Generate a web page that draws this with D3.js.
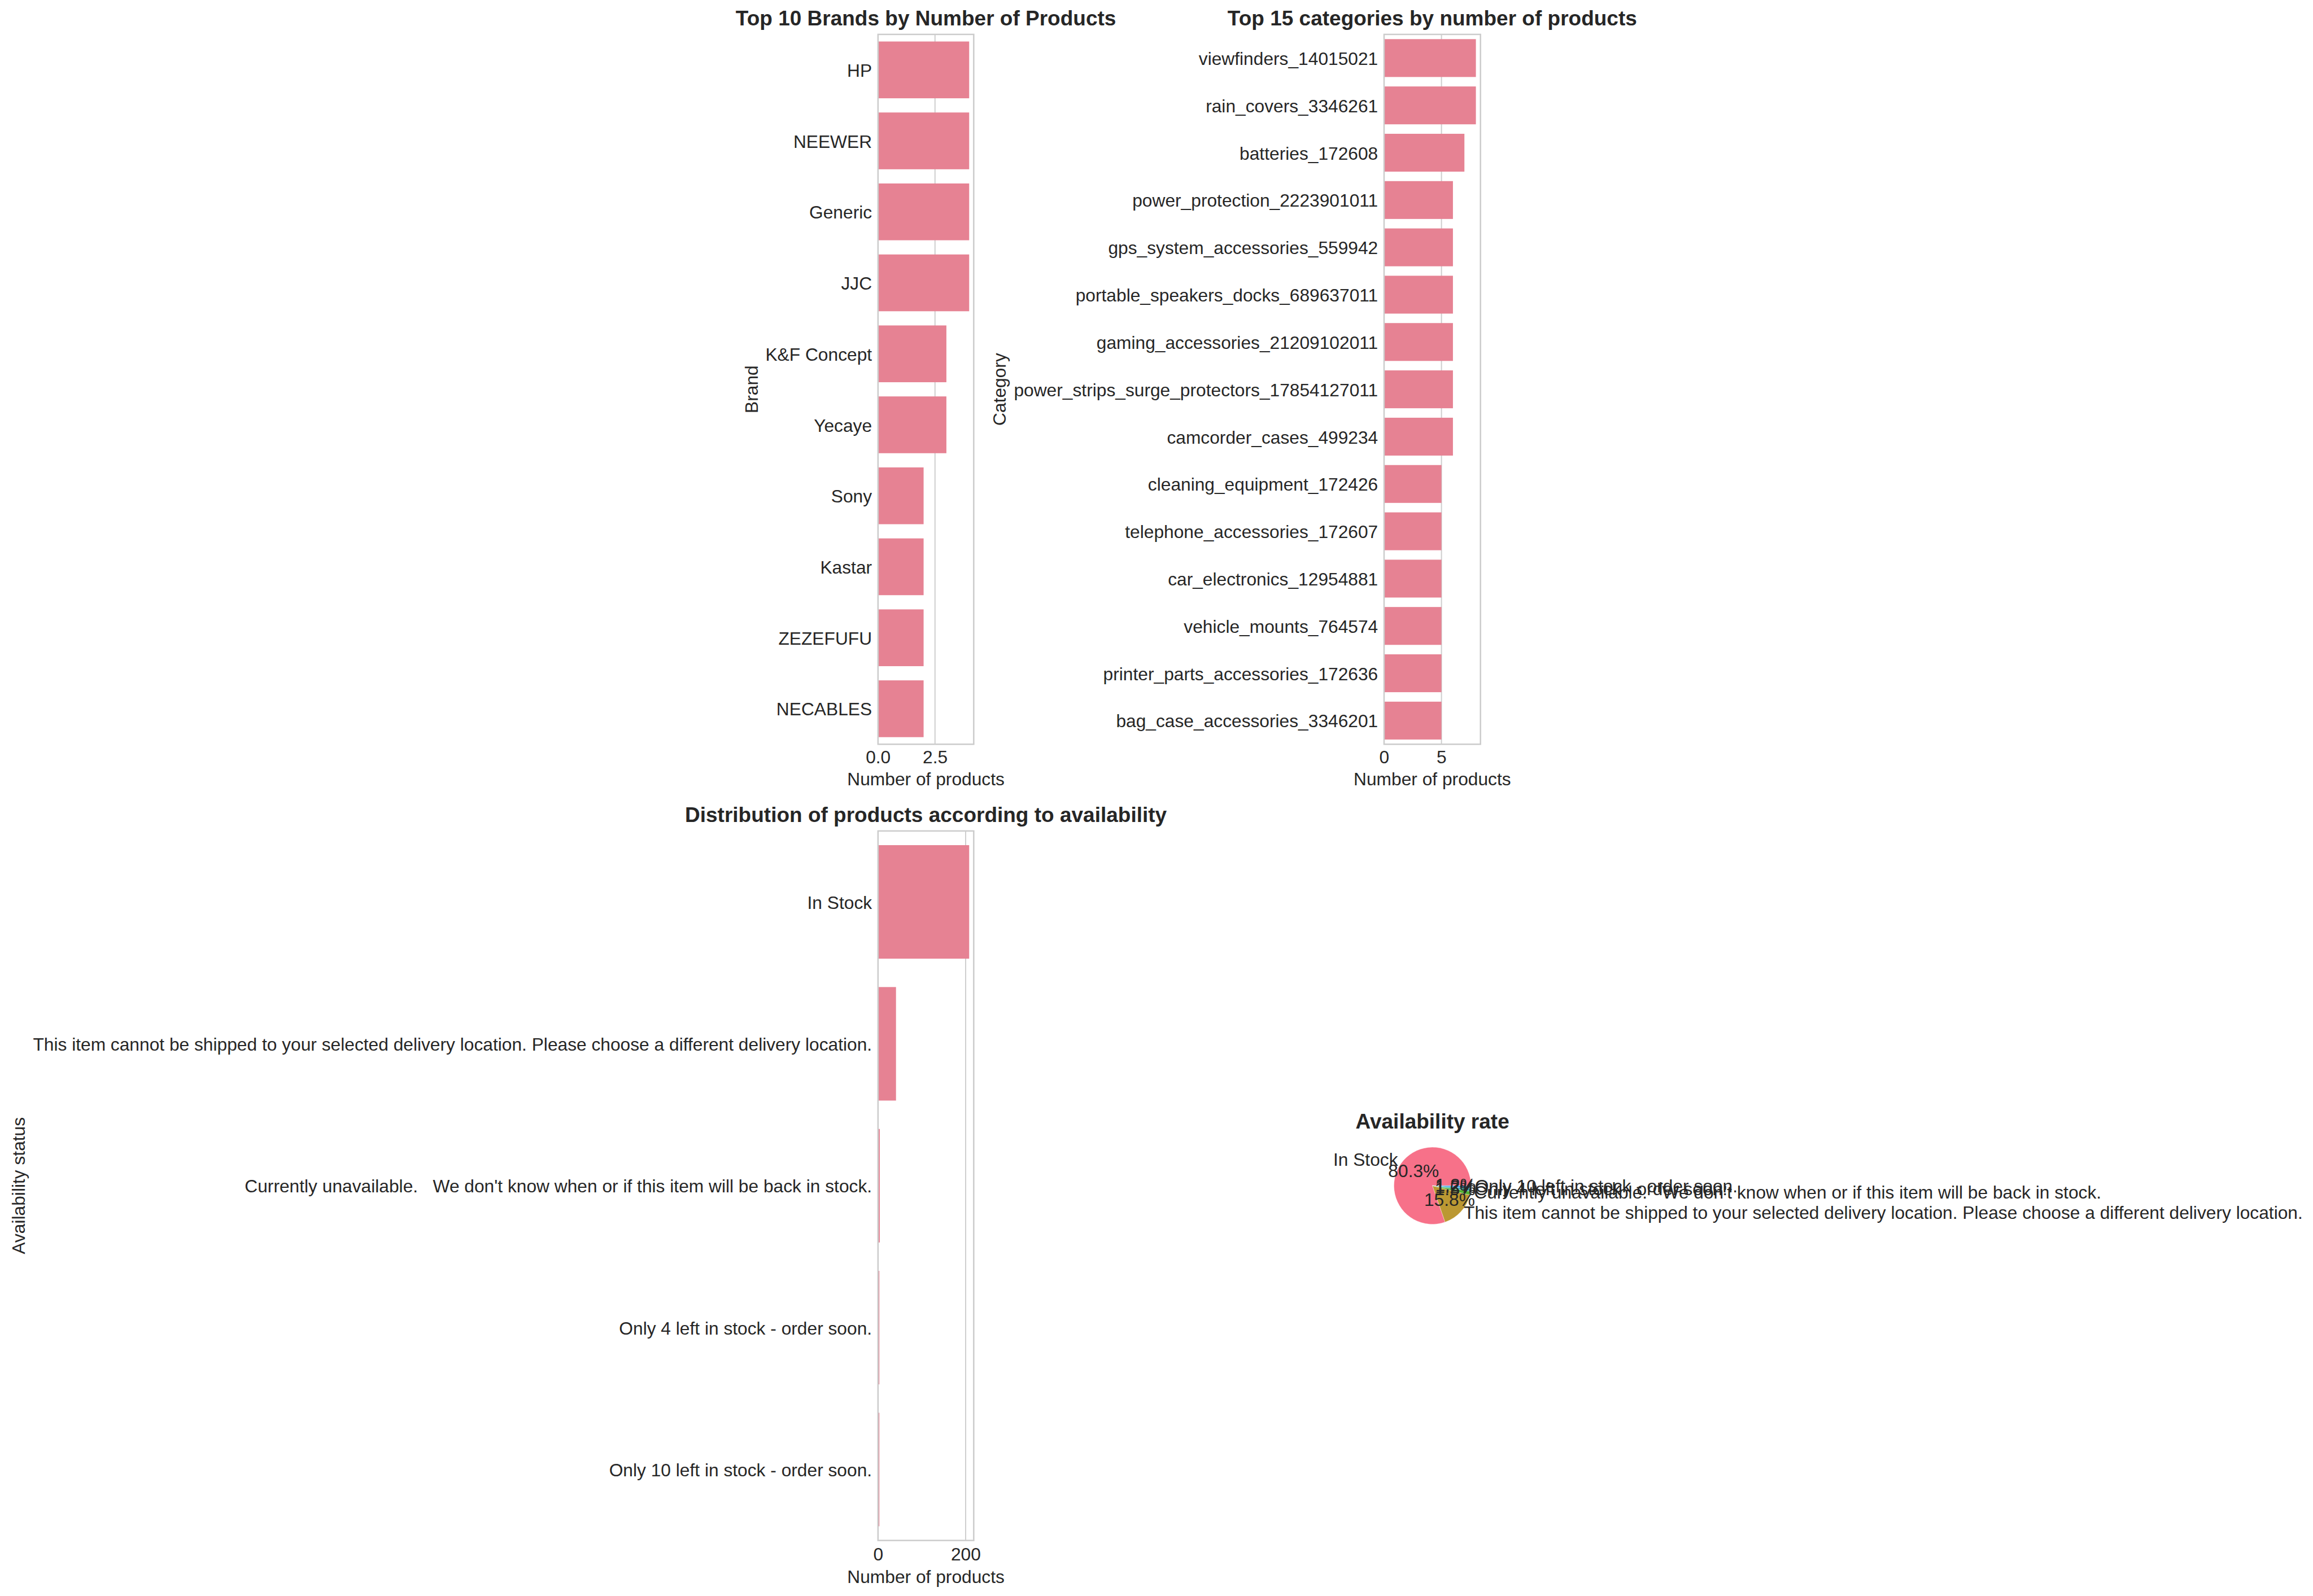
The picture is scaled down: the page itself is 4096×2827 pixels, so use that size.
<!DOCTYPE html>
<html><head><meta charset="utf-8">
<script src="https://cdn.jsdelivr.net/npm/d3@7"></script>
<style>html,body{margin:0;padding:0;background:#fff;overflow:hidden}</style>
</head><body>
<svg id="chart"></svg>
<script>
// ---------------- data ----------------
const brands = ["HP", "NEEWER", "Generic", "JJC", "K&F Concept", "Yecaye", "Sony", "Kastar", "ZEZEFUFU", "NECABLES"];
const brandCounts = [4, 4, 4, 4, 3, 3, 2, 2, 2, 2];
const brandTicks = [0, 2.5];

const categories = [
  "viewfinders_14015021", "rain_covers_3346261", "batteries_172608",
  "power_protection_2223901011", "gps_system_accessories_559942",
  "portable_speakers_docks_689637011", "gaming_accessories_21209102011",
  "power_strips_surge_protectors_17854127011", "camcorder_cases_499234",
  "cleaning_equipment_172426", "telephone_accessories_172607",
  "car_electronics_12954881", "vehicle_mounts_764574",
  "printer_parts_accessories_172636", "bag_case_accessories_3346201"
];
const categoryCounts = [8, 8, 7, 6, 6, 6, 6, 6, 6, 5, 5, 5, 5, 5, 5];
const categoryTicks = [0, 5];

const availability = [
  "In Stock",
  "This item cannot be shipped to your selected delivery location. Please choose a different delivery location.",
  "Currently unavailable.   We don't know when or if this item will be back in stock.",
  "Only 4 left in stock - order soon.",
  "Only 10 left in stock - order soon."
];
const availabilityCounts = [208, 41, 4, 3, 3];
const availabilityTicks = [0, 200];

const pieColors = ["#f77189", "#bb9832", "#50b131", "#36ada4", "#3ba3ec"];

// ---------------- setup ----------------
const W = 6454, H = 4454;
const svg = d3.select("#chart")
  .attr("width", 4096).attr("height", 2827)
  .attr("viewBox", `0 0 ${W} ${H}`)
  .attr("preserveAspectRatio", "none");
svg.append("rect").attr("width", W).attr("height", H).attr("fill", "#fff");

const FONT = "'Liberation Sans', Arial, Helvetica, sans-serif";
const TXT = "#262626", GRID = "#cccccc", BAR = "#e68293";
const TICK_FS = 50, TITLE_FS = 58.3;

function barPanel(cfg) {
  const { cats, vals, ticks, fmt, box, title, ylabel, ylabelX, xlabelY, xtickY } = cfg;
  const g = svg.append("g");
  const x = d3.scaleLinear().domain([0, d3.max(vals) * 1.05]).range([box.left, box.right]);
  const y = d3.scaleBand().domain(cats).range([box.top, box.bottom]).paddingInner(0.2).paddingOuter(0.1);

  g.append("g").selectAll("line").data(ticks).join("line")
    .attr("x1", d => x(d)).attr("x2", d => x(d))
    .attr("y1", box.top).attr("y2", box.bottom)
    .attr("stroke", GRID).attr("stroke-width", 3);

  g.append("g").selectAll("rect").data(cats).join("rect")
    .attr("x", x(0)).attr("y", d => y(d))
    .attr("width", (d, i) => x(vals[i]) - x(0))
    .attr("height", y.bandwidth())
    .attr("fill", BAR);

  g.append("rect")
    .attr("x", box.left).attr("y", box.top)
    .attr("width", box.right - box.left).attr("height", box.bottom - box.top)
    .attr("fill", "none").attr("stroke", GRID).attr("stroke-width", 4);

  const xa = g.append("g").attr("transform", `translate(0,${box.bottom})`)
    .call(d3.axisBottom(x).tickValues(ticks).tickFormat(fmt).tickSize(0).tickPadding(18));
  xa.select(".domain").remove();
  xa.attr("font-size", TICK_FS).attr("font-family", FONT);
  xa.selectAll("text").attr("fill", TXT).attr("dy", null).attr("y", xtickY);

  const ya = g.append("g").attr("transform", `translate(${box.left},0)`)
    .call(d3.axisLeft(y).tickSize(0).tickPadding(17));
  ya.select(".domain").remove();
  ya.attr("font-size", TICK_FS).attr("font-family", FONT);
  ya.selectAll("text").attr("fill", TXT).attr("dy", "0.38em")
    .attr("xml:space", "preserve").style("white-space", "pre");

  const cx = (box.left + box.right) / 2, cy = (box.top + box.bottom) / 2;
  g.append("text").attr("x", cx).attr("y", box.top - 25)
    .attr("text-anchor", "middle").attr("font-family", FONT).attr("font-weight", "bold")
    .attr("font-size", TITLE_FS).attr("fill", TXT).text(title);
  g.append("text").attr("x", cx).attr("y", xlabelY)
    .attr("text-anchor", "middle").attr("font-family", FONT)
    .attr("font-size", TICK_FS).attr("fill", TXT).text("Number of products");
  g.append("text").attr("transform", `translate(${ylabelX},${cy}) rotate(-90)`)
    .attr("text-anchor", "middle").attr("font-family", FONT)
    .attr("font-size", TICK_FS).attr("fill", TXT).text(ylabel);
}

barPanel({
  cats: brands, vals: brandCounts, ticks: brandTicks, fmt: d3.format(".1f"),
  box: { left: 2450, right: 2717, top: 96, bottom: 2077 },
  title: "Top 10 Brands by Number of Products", ylabel: "Brand",
  ylabelX: 2114, xlabelY: 2191, xtickY: 52.5
});
barPanel({
  cats: categories, vals: categoryCounts, ticks: categoryTicks, fmt: d3.format("d"),
  box: { left: 3862, right: 4131, top: 96, bottom: 2077 },
  title: "Top 15 categories by number of products", ylabel: "Category",
  ylabelX: 2806, xlabelY: 2191, xtickY: 52.5
});
barPanel({
  cats: availability, vals: availabilityCounts, ticks: availabilityTicks, fmt: d3.format("d"),
  box: { left: 2450, right: 2717, top: 2319, bottom: 4299 },
  title: "Distribution of products according to availability", ylabel: "Availability status",
  ylabelX: 70, xlabelY: 4418, xtickY: 55
});

// ---------------- pie ----------------
(function () {
  const pcx = 3997, pcy = 3309, r = 107.5;
  const g = svg.append("g");
  const total = d3.sum(availabilityCounts);
  // matplotlib: start at 3 o'clock, counter-clockwise
  const pie = d3.pie().sort(null).startAngle(Math.PI / 2).endAngle(Math.PI / 2 - 2 * Math.PI);
  const arcs = pie(availabilityCounts);
  const arc = d3.arc().innerRadius(0).outerRadius(r);
  const pg = g.append("g").attr("transform", `translate(${pcx},${pcy})`);
  pg.selectAll("path").data(arcs).join("path")
    .attr("d", arc).attr("fill", (d, i) => pieColors[i])
    .attr("stroke", "#fff").attr("stroke-width", 0.6);

  arcs.forEach((a, i) => {
    const m = (a.startAngle + a.endAngle) / 2;
    const lx = Math.sin(m) * r * 1.1, ly = -Math.cos(m) * r * 1.1;
    pg.append("text").attr("x", lx).attr("y", ly).attr("dy", "0.27em")
      .attr("text-anchor", lx > 0 ? "start" : "end")
      .attr("font-family", FONT).attr("font-size", TICK_FS).attr("fill", TXT)
      .attr("xml:space", "preserve").style("white-space", "pre")
      .text(availability[i]);
  });
  arcs.forEach((a, i) => {
    const m = (a.startAngle + a.endAngle) / 2;
    const px = Math.sin(m) * r * 0.6, py = -Math.cos(m) * r * 0.6;
    pg.append("text").attr("x", px).attr("y", py).attr("dy", "0.27em")
      .attr("text-anchor", "middle")
      .attr("font-family", FONT).attr("font-size", TICK_FS).attr("fill", TXT)
      .text(d3.format(".1f")(availabilityCounts[i] / total * 100) + "%");
  });
  g.append("text").attr("x", pcx).attr("y", 3150)
    .attr("text-anchor", "middle").attr("font-family", FONT).attr("font-weight", "bold")
    .attr("font-size", TITLE_FS).attr("fill", TXT).text("Availability rate");
})();
</script>
</body></html>
